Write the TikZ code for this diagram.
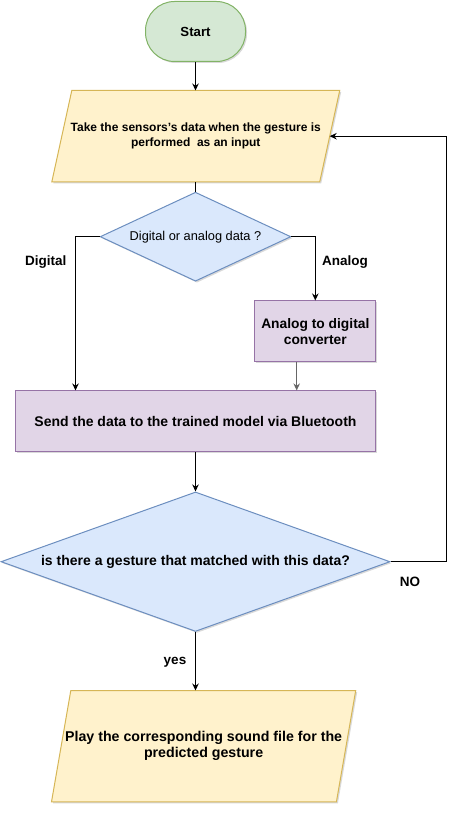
\documentclass[tikz,border=0pt]{standalone}
\usepackage{fontspec}
\setmainfont{Liberation Sans}
\usetikzlibrary{arrows.meta,shapes.geometric,shadows,calc,positioning,backgrounds}
\definecolor{startfill}{HTML}{D5E8D4}
\definecolor{startline}{HTML}{82B366}
\definecolor{iofill}{HTML}{FFF2CC}
\definecolor{ioline}{HTML}{D6B656}
\definecolor{decfill}{HTML}{DAE8FC}
\definecolor{decline}{HTML}{6C8EBF}
\definecolor{procfill}{HTML}{E1D5E7}
\definecolor{procline}{HTML}{9673A6}
\def\fsz#1#2{\fontsize{#1}{#2}\selectfont}
\begin{document}
\begin{tikzpicture}[x=1pt,y=1pt,
  font=\fsz{12}{15}\bfseries,
  shade/.style={drop shadow={shadow xshift=1.5pt,shadow yshift=-1.5pt,opacity=0.25,fill=black!60}},
  startbox/.style={draw=startline,fill=startfill,line width=1pt,rounded corners=29pt,
    minimum width=100pt,minimum height=60pt,shade},
  iobox/.style={align=center,inner sep=0pt},
  decbox/.style={diamond,draw=decline,fill=decfill,line width=1pt,inner sep=0pt,shade},
  procbox/.style={draw=procline,fill=procfill,line width=1pt,align=center,shade},
  arr/.style={-{Stealth[length=7pt,width=6.5pt]},line width=1pt},
  lbl/.style={inner sep=1pt,font=\fsz{13.5}{15}\bfseries}]
\useasboundingbox (0,0) rectangle (465,-813);
\node (start) at (195.5,-31.5) [startbox,font=\fsz{13.2}{15}\bfseries] {Start};
\node (in) at (195.75,-136.2) [iobox,minimum width=267.5pt,minimum height=91pt]
  {Take the sensors's data when the gesture is\\performed~ as an input};
\node (dec1) at (195.5,-236.7) [decbox,shape aspect=2.14,minimum width=190.7pt,
  minimum height=89pt,font=\fsz{12.8}{15}] {Digital or analog data ?};
\node (adc) at (315.3,-331.3) [procbox,minimum width=120.7pt,minimum height=60.7pt,
  font=\fsz{13.8}{15.7}\bfseries] {Analog to digital\\converter};
\node (send) at (195.5,-421.3) [procbox,minimum width=360.4pt,minimum height=60.7pt,
  font=\fsz{14}{16}\bfseries] {Send the data to the trained model via Bluetooth};
\node (dec2) at (195.5,-561.7) [decbox,shape aspect=2.79,minimum width=389pt,
  minimum height=139.5pt,font=\fsz{14}{16}\bfseries]
  {is there a gesture that matched with this data?};
\node (out) at (203.6,-746.2) [iobox,minimum width=284.5pt,minimum height=111pt,
  font=\fsz{14.2}{16}\bfseries]
  {Play the corresponding sound file for the\\predicted gesture};
% parallelograms behind the two io nodes
\begin{scope}[on background layer]
\foreach \n/\s in {in/10,out/9.65}
  \filldraw[draw=ioline,fill=iofill,line width=1pt,shade]
    ([xshift=\s pt]\n.north west) -- ([xshift=\s pt]\n.north east)
    -- ([xshift=-\s pt]\n.south east) -- ([xshift=-\s pt]\n.south west) -- cycle;
\end{scope}
% labels
\node (ldig) at (45.7,-262) [lbl] {Digital};
\node (lana) at (345,-262) [lbl] {Analog};
\node (lno) at (410,-582) [lbl] {NO};
\node (lyes) at (175,-662) [lbl] {yes};
% connectors
\draw[arr] (start) -- (start |- in.north);
\draw[line width=1pt] (dec1.north) -- (dec1 |- in.south);
\draw[arr] (dec1.west) -| ([xshift=60.7pt]send.north west);
\draw[arr] (dec1.east) -| (adc.north);
\draw[arr,black!60] ([xshift=-18.6pt]adc.south) -- ([xshift=-18.6pt]adc.south |- send.north);
\draw[arr] (send) -- (dec2.north);
\draw[arr] (dec2.east) -- ++(55.7pt,0) |- (in.east);
\draw[arr] (dec2.south) -- (dec2.south |- out.north);
\end{tikzpicture}
\end{document}
